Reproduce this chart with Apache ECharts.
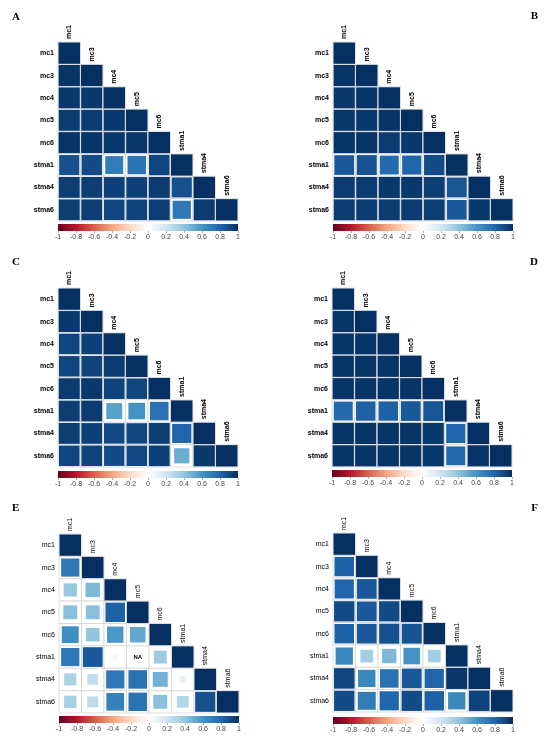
<!DOCTYPE html>
<html lang="en">
<head>
    <meta charset="UTF-8">
    <title>corrplot</title>
</head>
<body style="margin: 0; background: #fff">
<div id="container" style="height: 742px; width: 550px;"></div>
<script type="text/javascript" src="https://cdn.jsdelivr.net/npm/echarts@6/dist/echarts.min.js"></script>
<script type="text/javascript">
    const vars = ['mc1', 'mc3', 'mc4', 'mc5', 'mc6', 'stma1', 'stma4', 'stma6'];
    const scaleTicks = [-1, 1];
    const rdbu = ['#67001F', '#B2182B', '#D6604D', '#F4A582', '#FDDBC7', '#FFFFFF',
        '#D1E5F0', '#92C5DE', '#4393C3', '#2166AC', '#053061'];

    // lower triangles, row by row (null = NA)
    const corrA = [
        [1],
        [0.98, 1],
        [0.97, 0.97, 1],
        [0.96, 0.96, 0.97, 1],
        [0.98, 0.98, 0.97, 0.97, 1],
        [0.88, 0.9, 0.7, 0.74, 0.92, 1],
        [0.95, 0.95, 0.94, 0.94, 0.96, 0.88, 1],
        [0.95, 0.95, 0.92, 0.93, 0.95, 0.72, 0.96, 1]
    ];
    const corrB = [
        [1],
        [0.98, 1],
        [0.97, 0.98, 1],
        [0.97, 0.97, 0.98, 1],
        [0.98, 0.98, 0.96, 0.97, 1],
        [0.85, 0.87, 0.78, 0.8, 0.9, 1],
        [0.96, 0.96, 0.97, 0.97, 0.95, 0.86, 1],
        [0.96, 0.96, 0.96, 0.96, 0.95, 0.85, 0.97, 1]
    ];
    const corrC = [
        [1],
        [0.97, 1],
        [0.92, 0.94, 1],
        [0.92, 0.93, 0.96, 1],
        [0.96, 0.97, 0.93, 0.92, 1],
        [0.95, 0.96, 0.55, 0.6, 0.75, 1],
        [0.95, 0.94, 0.91, 0.92, 0.95, 0.8, 1],
        [0.92, 0.93, 0.9, 0.91, 0.94, 0.5, 0.97, 1]
    ];
    const corrD = [
        [1],
        [0.98, 1],
        [0.98, 0.98, 1],
        [0.98, 0.98, 0.98, 1],
        [0.98, 0.98, 0.98, 0.98, 1],
        [0.78, 0.82, 0.82, 0.85, 0.86, 1],
        [0.98, 0.98, 0.98, 0.98, 0.97, 0.8, 1],
        [0.98, 0.98, 0.98, 0.98, 0.97, 0.78, 0.98, 1]
    ];
    const corrE = [
        [1],
        [0.72, 1],
        [0.38, 0.45, 1],
        [0.42, 0.42, 0.82, 1],
        [0.62, 0.4, 0.58, 0.52, 1],
        [0.72, 0.85, 0.06, null, 0.36, 1],
        [0.32, 0.25, 0.72, 0.75, 0.48, 0.1, 1],
        [0.33, 0.26, 0.68, 0.74, 0.42, 0.3, 0.88, 1]
    ];
    const corrF = [
        [1],
        [0.82, 1],
        [0.8, 0.85, 1],
        [0.9, 0.85, 0.9, 1],
        [0.82, 0.85, 0.88, 0.87, 1],
        [0.65, 0.35, 0.45, 0.6, 0.35, 1],
        [0.92, 0.65, 0.75, 0.85, 0.8, 0.97, 1],
        [0.9, 0.7, 0.8, 0.9, 0.82, 0.65, 0.93, 1]
    ];

    const panels = [
        {name: 'A', corr: corrA, left: 58, top: 42, bar: 224, bold: true, letter: {left: 7, top: 7}},
        {name: 'B', corr: corrB, left: 333, top: 42, bar: 224, bold: true, letter: {right: 7, top: 6}},
        {name: 'C', corr: corrC, left: 58, top: 288, bar: 471, bold: true, letter: {left: 7, top: 252}},
        {name: 'D', corr: corrD, left: 332, top: 288, bar: 470, bold: true, letter: {right: 7, top: 252}},
        {name: 'E', corr: corrE, left: 59, top: 534, bar: 716, bold: false, letter: {left: 7, top: 498}},
        {name: 'F', corr: corrF, left: 333, top: 533, bar: 717, bold: false, letter: {right: 7, top: 498}}
    ];

    const dom = document.getElementById('container');
    const myChart = echarts.init(dom);

    function cellRenderer(bold) {
        return function (params, api) {
            const col = api.value(0);
            const row = api.value(1);
            const r = api.value(2);
            const c = api.coord([col, row]);
            const s = api.size([1, 1]);
            const children = [{
                type: 'rect',
                shape: {x: c[0] - s[0] / 2, y: c[1] - s[1] / 2, width: s[0], height: s[1]},
                style: {fill: '#fff', stroke: '#d6d6d6', lineWidth: 0.8}
            }];
            if (r == null || isNaN(r)) {
                children.push({
                    type: 'text', x: c[0], y: c[1],
                    style: {text: 'NA', align: 'center', verticalAlign: 'middle',
                        fontSize: 6, fontWeight: 'bold', fill: '#000', fontFamily: 'Liberation Sans'}
                });
            } else {
                const k = Math.sqrt(Math.abs(r));
                const w = (s[0] - 1) * k;
                const h = (s[1] - 1) * k;
                children.push({
                    type: 'rect',
                    shape: {x: c[0] - w / 2, y: c[1] - h / 2, width: w, height: h},
                    style: {fill: api.visual('color')}
                });
            }
            if (col === row) {
                children.push({
                    type: 'text', x: c[0], y: c[1] - s[1] / 2 - 3, rotation: Math.PI / 2,
                    style: {text: vars[col], align: 'left', verticalAlign: 'middle',
                        fontSize: 7, fontWeight: bold ? 'bold' : 'normal', fill: '#000',
                        fontFamily: 'Liberation Sans'}
                });
            }
            return {type: 'group', children: children};
        };
    }

    function renderBar(params, api) {
        const p0 = api.coord([api.value(0), 0]);
        const p1 = api.coord([api.value(1), 1]);
        const stops = rdbu.map(function (col, i) {
            return {offset: i / (rdbu.length - 1), color: col};
        });
        return {
            type: 'rect',
            shape: {x: p0[0], y: p1[1], width: p1[0] - p0[0], height: p0[1] - p1[1]},
            style: {fill: new echarts.graphic.LinearGradient(0, 0, 1, 0, stops)}
        };
    }

    const option = {
        animation: false,
        title: [],
        grid: [],
        xAxis: [],
        yAxis: [],
        series: [],
        visualMap: {
            show: false,
            type: 'continuous',
            min: -1,
            max: 1,
            dimension: 2,
            seriesIndex: [0, 2, 4, 6, 8, 10],
            inRange: {color: rdbu}
        }
    };

    panels.forEach(function (p, k) {
        const g = k * 2;
        option.title.push(Object.assign({
            text: p.name,
            textStyle: {fontFamily: 'Liberation Serif', fontWeight: 'bold', fontSize: 11, color: '#000'}
        }, p.letter));
        option.grid.push({left: p.left, top: p.top, width: 180, height: 179});
        option.grid.push({left: p.left, top: p.bar, width: 180, height: 7});

        option.xAxis.push({type: 'category', data: vars, gridIndex: g, show: false});
        option.yAxis.push({
            type: 'category', data: vars, gridIndex: g, inverse: true,
            axisLine: {show: false}, axisTick: {show: false}, splitLine: {show: false},
            axisLabel: {fontSize: 7, fontWeight: p.bold ? 'bold' : 'normal', color: '#000',
                margin: 4, fontFamily: 'Liberation Sans'}
        });
        option.xAxis.push({
            type: 'value', gridIndex: g + 1, min: -1, max: 1, interval: 0.2,
            axisLine: {show: false}, splitLine: {show: false},
            axisTick: {show: true, length: 2, lineStyle: {color: '#777', width: 0.6}},
            axisLabel: {fontSize: 7, color: '#444', margin: 3, fontFamily: 'Liberation Sans'}
        });
        option.yAxis.push({type: 'value', gridIndex: g + 1, min: 0, max: 1, show: false});

        const cells = [];
        p.corr.forEach(function (rowVals, row) {
            rowVals.forEach(function (v, col) {
                cells.push([col, row, v]);
            });
        });
        option.series.push({
            type: 'custom',
            xAxisIndex: g, yAxisIndex: g,
            encode: {x: 0, y: 1},
            renderItem: cellRenderer(p.bold),
            data: cells
        });
        option.series.push({
            type: 'custom',
            xAxisIndex: g + 1, yAxisIndex: g + 1,
            encode: {x: [0, 1]},
            renderItem: renderBar,
            data: [scaleTicks]
        });
    });

    myChart.setOption(option);
</script>
</body>
</html>
